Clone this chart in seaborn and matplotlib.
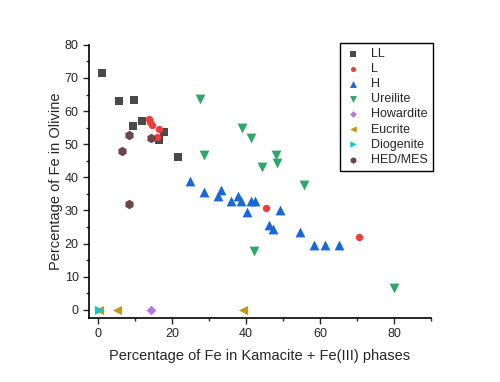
import pandas as pd
import seaborn as sns
import matplotlib.pyplot as plt
from matplotlib.ticker import MultipleLocator

# Дані
ll_x = [1.0, 5.6, 9.8, 9.5, 11.9, 17.9, 16.3, 21.7]
ll_y = [71.6, 63.0, 63.3, 55.6, 56.9, 53.6, 51.4, 46.1]

l_x = [13.6, 14.1, 14.6, 16.5, 15.8, 45.4, 70.6]
l_y = [57.5, 56.8, 55.9, 54.7, 52.3, 30.6, 22.0]

h_x = [24.7, 28.5, 33.1, 32.3, 36.0, 37.8, 38.6, 41.3, 42.3, 40.2,
       49.1, 46.1, 47.4, 54.6, 58.3, 61.4, 65.0]
h_y = [39.0, 35.6, 36.3, 34.3, 32.9, 34.3, 32.9, 32.7, 32.7, 29.4,
       30.0, 25.7, 24.3, 23.4, 19.7, 19.5, 19.6]

ure_x = [27.4, 28.5, 38.8, 41.4, 48.0, 48.3, 44.3, 55.6, 42.1, 79.9]
ure_y = [63.7, 46.6, 54.9, 52.0, 46.6, 44.2, 43.0, 37.8, 17.6, 6.5]

how_x = [14.2]
how_y = [0.0]

euc_x = [0.1, 5.1, 39.1]
euc_y = [0.0, 0.0, 0.0]

dio_x = [0.2]
dio_y = [0.0]

hed_x = [8.2, 6.3, 14.2, 8.2]
hed_y = [52.8, 48.0, 51.9, 31.9]

groups = [
    ("LL", ll_x, ll_y, "#4a4a4a", "s", 34),
    ("L", l_x, l_y, "#f23c3c", "o", 28),
    ("H", h_x, h_y, "#1a66db", "^", 50),
    ("Ureilite", ure_x, ure_y, "#2ea868", "v", 50),
    ("Howardite", how_x, how_y, "#b476e0", "D", 24),
    ("Eucrite", euc_x, euc_y, "#c9960c", "<", 44),
    ("Diogenite", dio_x, dio_y, "#10c8d0", ">", 44),
    ("HED/MES", hed_x, hed_y, "#6e4646", "h", 46),
]

sns.set_style("ticks")
plt.rcParams['font.family'] = ['Liberation Sans', 'DejaVu Sans']

fig = plt.figure(figsize=(5, 3.82), dpi=100)
ax = fig.add_axes([0.178, 0.1675, 0.684, 0.715])

for name, xs, ys, col, mk, size in groups:
    df = pd.DataFrame({"x": xs, "y": ys})
    sns.scatterplot(data=df, x="x", y="y", color=col, marker=mk, s=size,
                    linewidth=0, label=name, ax=ax)

ax.set_xlim(-2.5, 90)
ax.set_ylim(-2.5, 80)
ax.xaxis.set_major_locator(MultipleLocator(20))
ax.xaxis.set_minor_locator(MultipleLocator(10))
ax.yaxis.set_major_locator(MultipleLocator(10))
ax.yaxis.set_minor_locator(MultipleLocator(5))
ax.tick_params(which="major", length=4, width=1, labelsize=9, direction="out")
ax.tick_params(which="minor", length=2.5, width=1, direction="out")

for side in ["top", "right"]:
    ax.spines[side].set_visible(False)
for side in ["left", "bottom"]:
    ax.spines[side].set_linewidth(1.2)
    ax.spines[side].set_color("black")

ax.set_xlabel("Percentage of Fe in Kamacite + Fe(III) phases", fontsize=10.5,
              labelpad=6)
ax.set_ylabel("Percentage of Fe in Olivine", fontsize=10.5, labelpad=1)

leg = ax.legend(loc="upper right", bbox_to_anchor=(1.006, 1.007), fontsize=9,
                frameon=True, fancybox=False, edgecolor="black",
                labelspacing=0.25, handlelength=1.2, handletextpad=0.9,
                borderpad=0.4, borderaxespad=0, markerscale=0.7,
                framealpha=1)
leg.get_frame().set_linewidth(1)

fig.savefig("out.png", dpi=100)
